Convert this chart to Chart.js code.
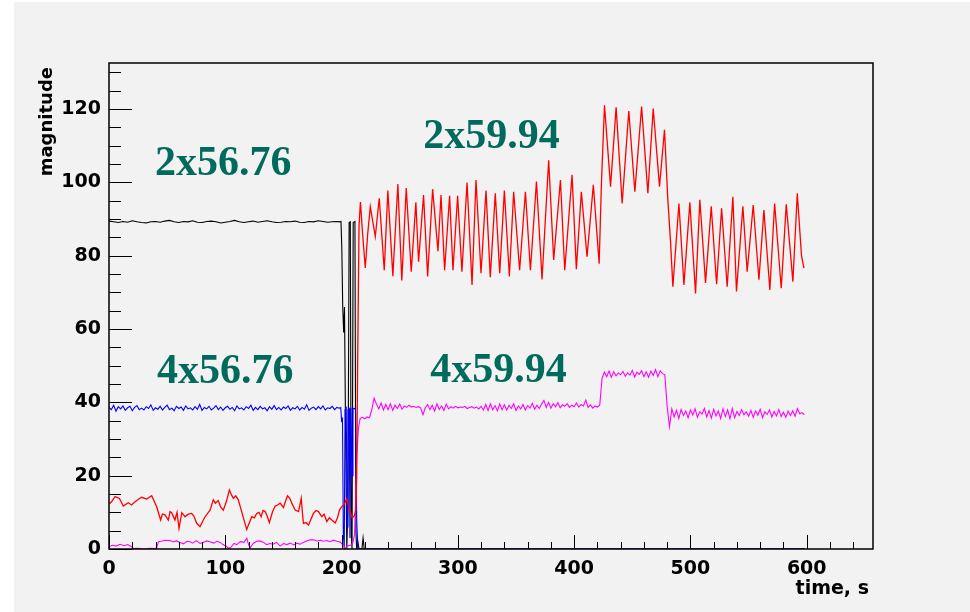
<!DOCTYPE html>
<html>
<head>
<meta charset="utf-8">
<script src="https://cdn.jsdelivr.net/npm/chart.js@4/dist/chart.umd.min.js"></script>
<style>
  html, body { margin: 0; padding: 0; background: #ffffff; }
  #wrap { position: absolute; left: 14px; top: 2px; width: 956px; height: 610px; background: #f2f2f2; }
  canvas { display: block; }
</style>
</head>
<body>
<div id="wrap"><canvas id="c" width="956" height="610"></canvas></div>
<script>
// Axis ticks
const xTicks = [0, 100, 200, 300, 400, 500, 600];
const yTicks = [0, 20, 40, 60, 80, 100, 120];

// Black: 2x56.76 magnitude, sampled every 4 s from t = 0
const blackFlat = [
  89.4, 89.2, 89.0, 89.3, 89.1, 89.5, 89.2, 89.0, 88.9, 89.2,
  89.3, 89.1, 89.4, 89.6, 89.2, 89.0, 89.3, 89.2, 89.5, 89.1,
  89.0, 89.3, 89.4, 89.2, 88.9, 89.1, 89.3, 89.6, 89.2, 89.0,
  89.2, 89.4, 89.1, 89.3, 89.5, 89.2, 89.0, 89.1, 89.3, 89.2,
  89.4, 89.1, 89.0, 89.3, 89.2, 89.5, 89.3, 89.1, 89.2, 89.3
];
// Black: switching burst and afterwards, [t, value]
const blackEdge = [
  [198, 89.2], [199.5, 89.3], [200.2, 82], [201, 66], [201.8, 59], [202.5, 66],
  [203.5, 30], [204.5, 0], [205.5, 12], [206.5, 89], [207.5, 89.2], [208.3, 4],
  [209, 0], [210, 89], [211.5, 89.3], [212.3, 5], [213, 0], [214, 2], [215, 0],
  [217.5, 0], [218.5, 3], [219.5, 0], [598, 0]
];

// Blue: 4x56.76 magnitude, sampled every 2 s from t = 0
const blueFlat = [
  38.6, 38.0, 39.2, 37.6, 38.8, 38.2, 39.0, 37.8, 38.5, 38.9,
  37.7, 38.6, 39.1, 38.0, 38.4, 37.9, 38.8, 38.3, 39.3, 37.8,
  38.5, 38.1, 38.9, 37.9, 38.6, 39.2, 38.0, 38.4, 37.7, 38.9,
  38.3, 38.7, 37.8, 39.0, 38.2, 38.5, 37.9, 38.8, 38.1, 39.4,
  37.8, 38.6, 38.2, 38.9, 37.9, 38.4, 39.1, 38.0, 38.7, 37.8,
  38.5, 38.9, 38.1, 38.6, 37.7, 39.0, 38.2, 38.5, 37.9, 38.8,
  38.3, 39.2, 37.8, 38.6, 38.0, 38.9, 38.2, 38.5, 37.7, 38.8,
  38.1, 39.1, 38.0, 38.6, 37.9, 38.7, 38.3, 39.0, 37.8, 38.5,
  38.2, 38.9, 37.9, 38.6, 38.1, 39.3, 37.8, 38.4, 38.7, 38.0,
  38.8, 38.2, 39.0, 37.9, 38.5, 38.3, 38.9, 38.0, 38.6, 38.4
];
const blueEdge = [
  [199.3, 38.5], [200, 35], [200.8, 35.5], [201.5, 4], [202.3, 0], [203, 38],
  [204, 38.5], [204.8, 6], [205.5, 38], [206.5, 38.3], [207.2, 3], [208, 38.5],
  [209, 20], [209.8, 38.4], [211, 38.2], [212, 38.5], [213, 8], [214, 0], [598, 0]
];

// Red: 2x59.94 magnitude, [t, value]
const redLow = [
  [0, 12.3], [2, 12.8], [5.2, 14.3], [9, 13.8], [12.3, 11.7], [16.6, 12.6], [19.4, 12],
  [22.4, 12.9], [25, 13.5], [28, 14.1], [32.4, 13.6], [36.7, 14.5], [41, 11.5], [44.4, 7.9],
  [46, 9.5], [48.2, 9.3], [51, 7.9], [52.5, 10.2], [53.9, 9.9], [56.7, 7.9], [58.5, 10],
  [60.2, 5.6], [62.6, 9.9], [65.4, 8.8], [68, 9.5], [71.1, 9.7], [73, 9], [75.4, 7],
  [78.3, 6.1], [80.5, 7.5], [82.6, 8.8], [86.9, 10.6], [89.7, 13.4], [91.5, 12.5], [93.9, 13.2],
  [96, 11.5], [98.3, 10.6], [101, 13], [103.5, 16.1], [105, 15], [106.9, 13.8], [109, 14.5],
  [111.2, 13.4], [114.1, 10.2], [116, 8], [118.4, 5.3], [120.5, 7], [122.8, 8.8], [125, 8.5],
  [127, 9.7], [129, 10], [130.8, 8.8], [132.5, 10.5], [134.3, 10.2], [136, 9], [137.9, 7.2],
  [140.5, 10], [142.9, 11.7], [145, 12], [147.2, 12.5], [150, 11.3], [151.8, 13], [153.5, 14.5],
  [155.5, 13.8], [157.2, 12.5], [160.1, 10.6], [163, 10.2], [165.3, 13.8], [166.3, 10], [167.2, 7],
  [169.5, 7.2], [171.5, 6.5], [173.5, 8], [175.8, 9.7], [178, 10.5], [180.1, 10.2], [183, 8.8],
  [185, 9.5], [187.3, 7.5], [189.5, 8.5], [191.6, 7.9], [194.5, 7.1], [196.5, 8.5], [198.2, 10.6],
  [200, 11.5], [201.7, 12], [203.2, 12.8], [204.6, 13.8], [206, 11.5], [207.5, 10.2], [209, 8.5],
  [210.9, 9], [212.3, 10.6], [213, 20], [213.8, 50], [215, 88]
];
const redHigh = [
  [216.2, 94.6], [218.3, 85], [220.4, 76.6], [222.5, 86], [224.7, 93.3], [229, 85.2], [232.4, 95.6],
  [236.7, 76], [239.8, 97.7], [244.1, 74.4], [248.4, 99.5], [251.8, 73.2], [255.6, 98.4], [259.9, 75.6],
  [263.9, 94.5], [266.2, 78.3], [270.5, 96.5], [274, 74.3], [278.3, 98.1], [282.9, 81.2], [285.5, 96.5],
  [288.6, 76], [292.9, 96.3], [295.8, 76], [299.8, 96.3], [303.5, 75.6], [307.9, 99.9], [312.2, 72],
  [315.6, 100.6], [319.9, 75.2], [324.2, 97.7], [327.9, 74.1], [332.2, 97], [336, 75.2], [340, 97.7],
  [344.3, 74.3], [348, 97.4], [353.1, 76], [358.1, 97.4], [362.4, 76], [367.6, 100.2], [372.4, 73.5],
  [378.1, 106], [382.4, 78.8], [388.2, 100.6], [391.9, 76], [398.2, 102], [401.9, 76.3], [406.2, 97.4],
  [411.1, 79.7], [416.5, 99.3], [421.5, 77.8], [423.5, 100], [426.1, 121], [431.3, 98.8], [436.1, 120.4],
  [441.3, 94.2], [447, 119.4], [452.2, 97.4], [458, 120.6], [463.4, 97], [468, 120.1], [473.4, 98.8],
  [477.7, 114.3], [480.5, 95.6], [482.9, 83.8], [484.9, 71.5], [490.1, 94.2], [494.4, 72], [499.5, 94.5],
  [504.4, 69.7], [508.1, 95.2], [513, 72.5], [517.9, 93.4], [522.5, 72.2], [526.8, 92.9], [531.6, 71.5],
  [536.5, 96], [539.6, 70.2], [545.1, 93.4], [548.8, 75.6], [554, 93.8], [558.9, 73.4], [563.2, 92.4],
  [568.3, 70.6], [572.4, 94.2], [578.1, 71.1], [582.4, 94], [588.1, 72.9], [591.9, 97], [595.5, 80],
  [597.6, 76.6]
];

// Magenta: 4x59.94 magnitude
const magentaLow = [
  [0, 0.6], [3, 1.0], [6, 0.8], [9.5, 1.3], [13, 0.9], [16, 1.2], [19.5, 0.6], [21, 0.1], [25, 0.2],
  [30, 0], [35, 0.2], [39, 0.1], [41, 0.3], [42.5, 2], [45, 2.1], [48, 2.4], [52.5, 2.3], [55, 1.9],
  [58, 2.2], [61.1, 1.8], [64, 1.4], [67, 2.1], [69.7, 2], [72, 1.6], [75, 2.3], [78.3, 1.5], [81, 1.8],
  [84, 2.2], [86.9, 2], [90, 1.6], [93, 2.1], [95.5, 1.8], [98, 1.2], [100.5, 0.8], [102.7, 0.2],
  [105, 0.5], [107.5, 1.5], [109.9, 1.2], [113, 2], [116, 1.8], [118.5, 2.9], [120, 1.2], [121.4, 0.3],
  [124, 1.5], [127, 2.1], [130, 2.2], [133, 1.8], [135.5, 1.2], [138.6, 1.5], [141, 1.3], [144, 1.8],
  [147.2, 0.8], [150, 1.5], [153, 1.2], [155.8, 1.6], [159, 1.1], [161.5, 1.6], [164.4, 1.3], [167, 1.8],
  [170, 2.2], [173, 2.5], [175.9, 2.5], [179, 2.2], [182, 2.4], [184.5, 2.1], [187.4, 2.3], [190, 2.0],
  [193, 2.4], [196, 2.1], [198.8, 1.9], [201, 1.2], [203.2, 0.2], [205, 0.8], [207.5, 1], [209.5, 1.5],
  [211.2, 4], [212, 12], [213, 25], [214.5, 33]
];
// Magenta after the switch, sampled every 2 s from t = 216
const magentaHigh = [
  35.6, 35.9, 35.5, 36.0, 35.8, 38.0, 41.1, 39.5, 38.2, 39.8,
  37.9, 39.4, 38.0, 39.6, 37.8, 39.2, 38.3, 39.5, 38.1, 39.0,
  38.6, 39.2, 38.7, 38.9, 38.6, 38.8, 38.5, 36.6, 38.5, 39.4,
  38.0, 39.2, 37.6, 39.6, 38.1, 39.0, 37.8, 39.5, 38.2, 38.8,
  38.4, 38.9, 38.5, 38.7, 38.6, 38.9, 38.3, 38.6, 38.8, 38.4,
  38.7, 38.2, 38.9, 37.9, 39.4, 37.8, 39.6, 38.0, 39.1, 37.7,
  39.5, 38.0, 39.3, 37.9, 39.2, 38.3, 39.6, 37.8, 39.0, 38.2,
  39.4, 37.9, 39.1, 38.4, 39.7, 38.1, 39.2, 38.3, 39.5, 40.5,
  38.6, 40.0, 38.4, 39.6, 38.8, 39.9, 38.5, 39.3, 38.9, 39.6,
  38.6, 39.2, 38.8, 39.8, 38.7, 39.4, 39.0, 40.6, 38.6, 39.3,
  38.4, 39.0, 38.7, 39.2, 46.5, 48.2, 47.0, 48.5, 46.8, 48.3,
  47.2, 48.0, 47.5, 48.4, 47.1, 48.0, 47.4, 48.7, 46.9, 48.2,
  47.6, 48.6, 47.0, 48.3, 46.8, 48.5, 47.3, 48.9, 47.0, 48.6,
  47.8, 47.5, 38.8, 33.4, 38.2, 36.0, 37.8, 35.6, 38.0, 36.4,
  37.6, 35.8, 37.9, 36.5, 38.2, 35.9, 37.4, 36.8, 38.3, 36.0,
  37.7, 35.7, 38.1, 36.3, 37.6, 35.6, 38.2, 36.1, 37.9, 35.5,
  38.3, 35.8, 37.5, 36.4, 38.0, 36.6, 37.4, 36.2, 37.8, 35.9,
  37.6, 36.5, 38.1, 35.8, 37.4, 36.7, 37.9, 36.0, 37.5, 36.3,
  38.0, 36.1, 37.3, 35.9, 37.6, 36.4, 37.7, 36.2, 38.3, 36.9,
  37.2, 36.6
];

// Region labels: text with anchor in data coordinates (left edge, baseline)
const regionLabels = [
  { text: '2x56.76', t: 39.6, v: 102.0 },
  { text: '2x59.94', t: 270.3, v: 109.4 },
  { text: '4x56.76', t: 41.3, v: 45.3 },
  { text: '4x59.94', t: 276.3, v: 45.6 }
];

const fromStep = (start, step, vals) => vals.map((v, i) => ({ x: start + i * step, y: v }));
const fromPairs = (pairs) => pairs.map(([x, y]) => ({ x, y }));

const blackData = fromStep(0, 4, blackFlat).concat(fromPairs(blackEdge));
const blueData = fromStep(0, 2, blueFlat).concat(fromPairs(blueEdge));
const redData = fromPairs(redLow).concat(fromPairs(redHigh));
const magentaData = fromPairs(magentaLow).concat(fromStep(216, 2, magentaHigh));

const labelFont = 'bold 19px "DejaVu Sans"';

const frameAndText = {
  id: 'frameAndText',
  afterDatasetsDraw(chart) {
    const { ctx, chartArea: a, scales: { x, y } } = chart;
    ctx.save();
    // inner tick marks
    ctx.strokeStyle = '#000';
    ctx.lineWidth = 1;
    ctx.beginPath();
    for (let v = 0; v <= y.max; v += 5) {
      const py = Math.round(y.getPixelForValue(v)) + 0.5;
      const len = v % 20 === 0 ? 23 : 12;
      ctx.moveTo(a.left, py); ctx.lineTo(a.left + len, py);
    }
    for (let v = 0; v <= x.max; v += 20) {
      const px = Math.round(x.getPixelForValue(v)) + 0.5;
      const len = v % 100 === 0 ? 14 : 7;
      ctx.moveTo(px, a.bottom); ctx.lineTo(px, a.bottom - len);
    }
    ctx.stroke();
    // frame
    ctx.lineWidth = 1.5;
    ctx.strokeRect(a.left, a.top, a.right - a.left, a.bottom - a.top);

    // region labels
    ctx.fillStyle = '#006a5c';
    ctx.font = 'bold 42px "Liberation Serif"';
    ctx.textAlign = 'left';
    ctx.textBaseline = 'alphabetic';
    regionLabels.forEach(l => {
      ctx.fillText(l.text, x.getPixelForValue(l.t), y.getPixelForValue(l.v));
    });

    // axis titles
    ctx.fillStyle = '#000';
    ctx.font = labelFont;
    ctx.textAlign = 'right';
    ctx.textBaseline = 'alphabetic';
    ctx.fillText('time, s', a.right - 4, a.bottom + 45);
    ctx.save();
    ctx.translate(a.left - 62, a.top + 4);
    ctx.rotate(-Math.PI / 2);
    ctx.font = 'bold 18px "DejaVu Sans"';
    ctx.textAlign = 'right';
    ctx.textBaseline = 'middle';
    ctx.fillText('magnitude', 0, 0);
    ctx.restore();
    ctx.restore();
  }
};

const line = (data, color, width) => ({
  data, showLine: true, borderColor: color, backgroundColor: color,
  borderWidth: width, pointRadius: 0, tension: 0
});

new Chart(document.getElementById('c'), {
  type: 'scatter',
  data: {
    datasets: [
      line(redData, '#ff0000', 1.3),
      line(magentaData, '#ff00ff', 1.1),
      line(blueData, '#0000ff', 1.1),
      line(blackData, '#000000', 1.1)
    ]
  },
  options: {
    responsive: false,
    animation: false,
    devicePixelRatio: 1,
    layout: { padding: { left: 0, top: 61, right: 97, bottom: 0 } },
    plugins: { legend: { display: false }, tooltip: { enabled: false } },
    scales: {
      x: {
        type: 'linear', min: 0, max: 657,
        grid: { display: false, drawTicks: false },
        border: { display: false },
        ticks: { color: '#000', font: { family: 'DejaVu Sans', weight: 'bold', size: 19 }, padding: 9, maxRotation: 0, autoSkip: false },
        afterBuildTicks: s => { s.ticks = xTicks.map(v => ({ value: v })); },
        afterFit: s => { s.height = 63; }
      },
      y: {
        type: 'linear', min: 0, max: 132.5,
        grid: { display: false, drawTicks: false },
        border: { display: false },
        ticks: { color: '#000', font: { family: 'DejaVu Sans', weight: 'bold', size: 19 }, padding: 8, autoSkip: false },
        afterBuildTicks: s => { s.ticks = yTicks.map(v => ({ value: v })); },
        afterFit: s => { s.width = 95; }
      }
    }
  },
  plugins: [frameAndText]
});
</script>
</body>
</html>
